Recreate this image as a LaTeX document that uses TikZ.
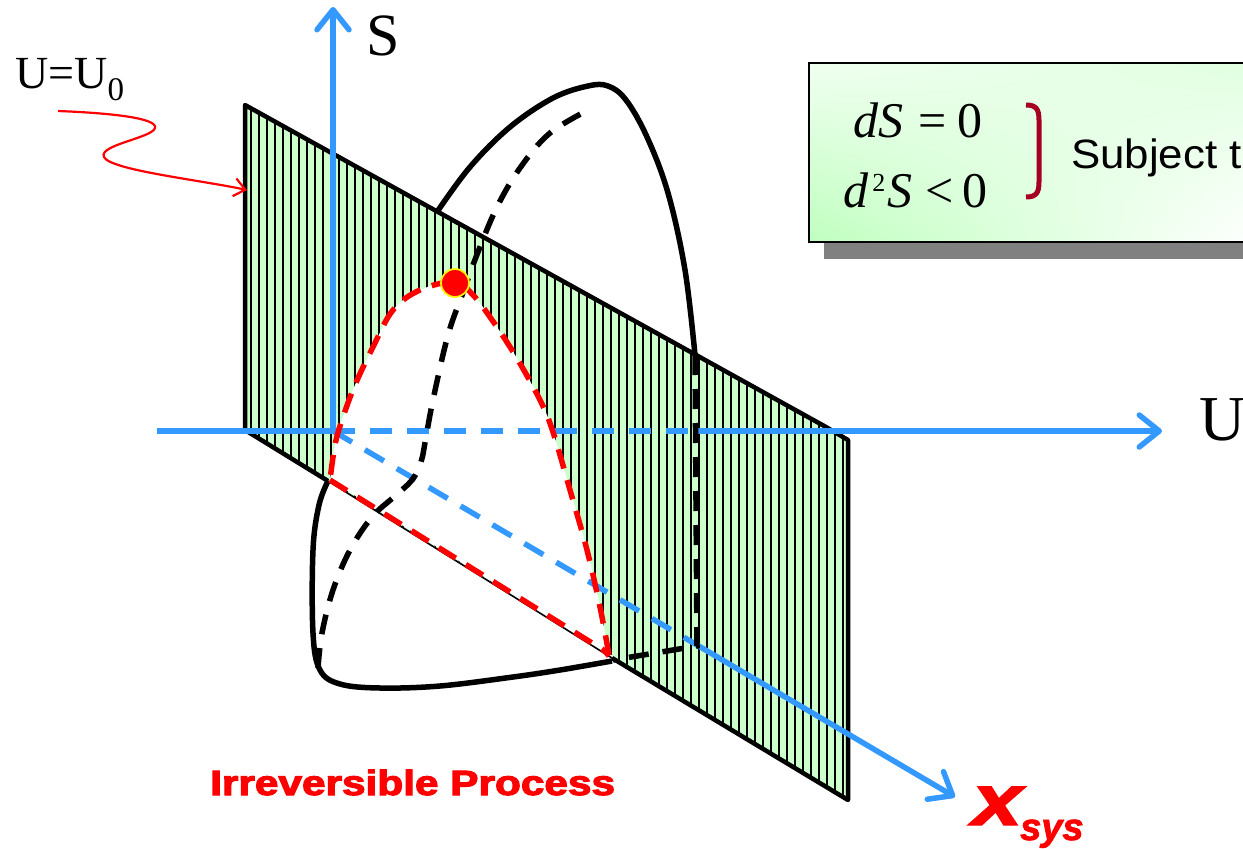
\documentclass[tikz,border=0pt]{standalone}
\usepackage{fontspec}
\setmainfont{Liberation Serif}
\newfontfamily\sansf{Liberation Sans}
\newfontfamily\heavyf[FakeBold=3]{Liberation Sans Bold}
\newfontfamily\heavyit[FakeBold=2]{Liberation Sans Bold Italic}
\usetikzlibrary{arrows.meta,shadings}
\definecolor{axisblue}{HTML}{3399FF}
\definecolor{planegreen}{HTML}{CCFFCC}
\definecolor{brackred}{HTML}{A50021}
\tikzset{
  axisline/.style={axisblue, line width=5.5pt},
  axisdash/.style={axisblue, line width=5.5pt, dash pattern=on 22pt off 15pt},
  axistip/.style={-{Straight Barb[length=20pt,width=32pt,round]}},
  planeedge/.style={black, line width=4.5pt, line join=round},
  stripe/.style={black, line width=1.7pt},
  curvesolid/.style={black, line width=5.5pt, line join=round},
  curvedash/.style={black, line width=5.5pt, dash pattern=on 20pt off 14pt},
  reddash/.style={red, line width=5.5pt, dash pattern=on 20pt off 12pt},
}
\begin{document}
\begin{tikzpicture}[x=1pt,y=-1pt]
\useasboundingbox (0,0) rectangle (1243,849);
% plane corners
\coordinate (PTL) at (245,105);
\coordinate (PTK) at (826,427);
\coordinate (PTR) at (848,440);
\coordinate (PBR) at (848,800);
\coordinate (PBM2) at (612,658);
\coordinate (PBM1) at (328,481);
\coordinate (PBL) at (245,430);
\coordinate (O) at (333,431);
% plane fill and stripes
\fill[planegreen] (PTL) -- (PTK) -- (PTR) -- (PBR) -- (PBL) -- cycle;
\begin{scope}
  \clip (PTL) -- (PTK) -- (PTR) -- (PBR) -- (PBL) -- cycle;
  \foreach \x in {251,259,...,847} \draw[stripe] (\x,100) -- (\x,805);
\end{scope}
% white section bounded by red curve
\fill[white] plot[smooth, tension=0.6] coordinates {(330,480) (335,445) (342,420) (355,385) (373,347) (393,310) (420,290) (455,282) (473,295) (490,317) (515,355) (540,400) (553,432) (570,490) (587,550) (600,607) (609,655)} -- cycle;
% plane outline
\draw[planeedge] (PBM1) -- (PBL) -- (PTL) -- (PTK) -- (PTR) -- (PBR) -- (PBM2);
\draw[black, line width=1.6pt] (PBM1) -- (PBM2);
% blue axes
\draw[axisline] (157,431) -- (O);
\draw[axisline, axistip] (O) -- (333,7);
\draw[axisdash] (O) -- (695,431);
\draw[axisline, axistip] (695,431) -- (1162,431);
\draw[axisdash] (O) -- (697,645);
\draw[axisline, axistip] (697,645) -- (955,797);
% black surface outline
\draw[curvesolid] plot[smooth, tension=0.6] coordinates {(437,212) (470,167) (510,127) (553,98) (588,86) (608,86) (626,100) (647,137) (668,193) (685,270) (695,355)};
\draw[curvedash] (695,355) -- (697,646) -- (613,660);
\draw[curvesolid] plot[smooth, tension=0.6] coordinates {(612,661) (560,670) (513,677) (440,686) (380,688) (340,684) (320,670) (313,633) (313,550) (319,505) (328,481)};
\draw[curvedash] plot[smooth, tension=0.6] coordinates {(318,668) (322,633) (333,590) (350,550) (372,517) (395,496) (412,480) (421,462) (426,437) (433,400) (448,335) (464,290) (478,252) (497,207) (520,168) (550,133) (592,108)};
% red section curve
\draw[reddash] plot[smooth, tension=0.6] coordinates {(609,655) (600,607) (587,550) (570,490) (553,432) (540,400) (515,355) (490,317) (473,295) (455,282) (420,290) (393,310) (373,347) (355,385) (342,420) (335,445) (330,480)};
\draw[reddash] (330,480) -- (592,643) .. controls (602,648) and (606,652) .. (609,656);
\node[circle, fill=red, draw=yellow, line width=1.8pt, minimum size=28pt, inner sep=0pt] (eq) at (455,283) {};
% labels
\node[anchor=base west, inner sep=0pt, font=\fontsize{60}{60}\selectfont] (Slab) at (366,55) {S};
\node[anchor=base west, inner sep=0pt, font=\fontsize{64}{64}\selectfont] (Ulab) at (1199,440) {U};
\node[anchor=base west, inner sep=0pt, font=\fontsize{46}{46}\selectfont] (U0lab) at (15,88) {U=U\raisebox{-12pt}{\fontsize{33}{33}\selectfont 0}};
\coordinate (W0) at (58,111);
\coordinate (W1) at (155,128);
\coordinate (W2) at (104,157);
\coordinate (W3) at (247,190);
\draw[red, line width=2.2pt, -{Straight Barb[length=11pt,width=18pt]}] (W0) .. controls (110,113) and (158,118) .. (W1) .. controls (152,138) and (98,145) .. (W2) .. controls (110,170) and (200,180) .. (W3);
% box
\begin{scope}
  \clip (0,0) rectangle (1243,849);
  \fill[black!50] (824,78) rectangle (1260,259);
  \shade[lower left=green!25, upper left=green!6, upper right=green!12, lower right=white] (809,63) rectangle (1260,242);
  \draw[black, line width=1.8pt] (809,63) rectangle (1260,242);
\end{scope}
\node[anchor=base west, inner sep=0pt, font=\fontsize{50}{50}\selectfont] (eq1) at (853,137) {\textit{dS}\hspace{15pt}=\hspace{11pt}0};
\node[anchor=base west, inner sep=0pt, font=\fontsize{50}{50}\selectfont] (eq2) at (843,207) {\textit{d}\hspace{4pt}\raisebox{16pt}{\fontsize{26}{26}\selectfont 2}\hspace{2pt}\textit{S}\hspace{13pt}<\hspace{9pt}0};
\coordinate (B0) at (1026,105);
\coordinate (B1) at (1026,197);
\draw[brackred, line width=5pt] (B0) .. controls (1036,105) and (1039,109) .. (1039,120) -- (1039,182) .. controls (1039,193) and (1036,197) .. (B1);
\node[anchor=base west, inner sep=0pt, font=\sansf\fontsize{41}{41}\selectfont] (subj) at (1071,168) {\scalebox{1.07}[1]{Subject t}};
% irreversible process
\node[anchor=base west, inner sep=0pt, text=red, font=\heavyf\fontsize{35}{35}\selectfont] (irr) at (210,795) {\scalebox{1.21}[1]{Irreversible Process}};
% x_sys
\node[anchor=base west, inner sep=0pt, text=red, font=\heavyit\fontsize{72}{72}\selectfont] (xs) at (972,825) {\scalebox{1.25}[1]{x}};
\node[anchor=base west, inner sep=0pt, text=red, font=\heavyit\fontsize{38}{38}\selectfont] (sys) at (1020,840) {sys};
\end{tikzpicture}
\end{document}
